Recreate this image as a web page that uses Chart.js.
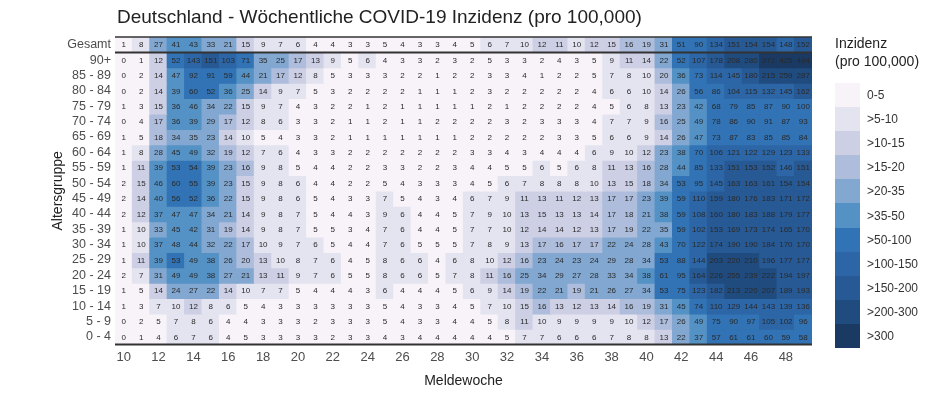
<!DOCTYPE html>
<html>
<head>
<meta charset="utf-8">
<script src="https://cdn.jsdelivr.net/npm/chart.js@4"></script>
<style>
  body { margin: 0; background: #fff; font-family: "Liberation Sans", Arial, sans-serif; }
  #wrap { position: relative; width: 945px; height: 396px; }
  #title { position: absolute; left: 117px; top: 6px; font-size: 19px; color: #222; white-space: nowrap; }
  #legend { position: absolute; left: 835px; top: 34px; color: #222; }
  #legend .lt { font-size: 14px; line-height: 18px; margin-bottom: 13px; white-space: nowrap; }
  #legend .row { display: flex; align-items: center; height: 24.1px; }
  #legend .box { width: 25px; height: 24.1px; }
  #legend .lab { font-size: 12px; color: #333; margin-left: 7px; }
</style>
</head>
<body>
<div id="wrap">
  <div id="title">Deutschland - Wöchentliche COVID-19 Inzidenz (pro 100,000)</div>
  <canvas id="heat" width="945" height="396"></canvas>
  <div id="legend"></div>
</div>
<script>
const weeks = [10, 11, 12, 13, 14, 15, 16, 17, 18, 19, 20, 21, 22, 23, 24, 25, 26, 27, 28, 29,
  30, 31, 32, 33, 34, 35, 36, 37, 38, 39, 40, 41, 42, 43, 44, 45, 46, 47, 48, 49];
const ageGroups = ['Gesamt', '90+', '85 - 89', '80 - 84', '75 - 79', '70 - 74', '65 - 69', '60 - 64',
  '55 - 59', '50 - 54', '45 - 49', '40 - 44', '35 - 39', '30 - 34', '25 - 29', '20 - 24',
  '15 - 19', '10 - 14', '5 - 9', '0 - 4'];

// weekly incidence per row, weeks 10..49
const gesamt = [1, 8, 27, 41, 43, 33, 21, 15, 9, 7, 6, 4, 4, 3, 3, 5, 4, 3, 3, 4, 5, 6, 7, 10, 12, 11, 10, 12, 15, 16, 19, 31, 51, 90, 134, 151, 154, 154, 148, 152];
const age90 = [0, 1, 12, 52, 143, 151, 103, 71, 35, 25, 17, 13, 9, 5, 6, 4, 3, 3, 2, 3, 2, 5, 3, 3, 2, 4, 3, 5, 9, 11, 14, 22, 52, 107, 178, 208, 280, 372, 425, 494];
const age85 = [0, 2, 14, 47, 92, 91, 59, 44, 21, 17, 12, 8, 5, 3, 3, 3, 2, 2, 1, 2, 2, 3, 3, 4, 1, 2, 2, 5, 7, 8, 10, 20, 36, 73, 114, 145, 180, 215, 259, 287];
const age80 = [0, 2, 14, 39, 60, 52, 36, 25, 14, 9, 7, 5, 3, 2, 2, 2, 2, 1, 1, 1, 2, 3, 2, 2, 2, 2, 2, 4, 6, 6, 10, 14, 26, 56, 86, 104, 115, 132, 145, 162];
const age75 = [1, 3, 15, 36, 46, 34, 22, 15, 9, 7, 4, 3, 2, 2, 1, 2, 1, 1, 1, 1, 1, 2, 1, 2, 2, 2, 2, 4, 5, 6, 8, 13, 23, 42, 68, 79, 85, 87, 90, 100];
const age70 = [0, 4, 17, 36, 39, 29, 17, 12, 8, 6, 3, 3, 2, 1, 1, 2, 1, 1, 2, 2, 2, 2, 3, 2, 3, 3, 3, 4, 7, 7, 9, 16, 25, 49, 78, 86, 90, 91, 87, 93];
const age65 = [1, 5, 18, 34, 35, 23, 14, 10, 5, 4, 3, 3, 2, 1, 1, 1, 1, 1, 1, 1, 2, 2, 2, 2, 2, 3, 3, 5, 6, 6, 9, 14, 26, 47, 73, 87, 83, 85, 85, 84];
const age60 = [1, 8, 28, 45, 49, 32, 19, 12, 7, 6, 4, 3, 3, 2, 2, 2, 2, 2, 2, 2, 3, 3, 4, 3, 4, 4, 4, 6, 9, 10, 12, 23, 38, 70, 106, 121, 122, 129, 123, 133];
const age55 = [1, 11, 39, 53, 54, 39, 23, 16, 9, 8, 5, 4, 4, 2, 2, 3, 3, 2, 2, 3, 4, 4, 5, 5, 6, 5, 6, 8, 11, 13, 16, 28, 44, 85, 133, 151, 153, 152, 146, 151];
const age50 = [2, 15, 46, 60, 55, 39, 23, 15, 9, 8, 6, 4, 4, 2, 2, 5, 4, 3, 3, 3, 4, 5, 6, 7, 8, 8, 8, 10, 13, 15, 18, 34, 53, 95, 145, 163, 163, 161, 154, 154];
const age45 = [2, 14, 40, 56, 52, 36, 22, 15, 9, 8, 6, 5, 4, 3, 3, 7, 5, 4, 3, 4, 6, 7, 9, 11, 13, 11, 12, 13, 17, 17, 23, 39, 59, 110, 159, 180, 176, 183, 171, 172];
const age40 = [2, 12, 37, 47, 47, 34, 21, 14, 9, 8, 7, 5, 4, 4, 3, 9, 6, 4, 4, 5, 7, 9, 10, 13, 15, 13, 13, 14, 17, 18, 21, 38, 59, 108, 160, 180, 183, 188, 179, 177];
const age35 = [1, 10, 33, 45, 42, 31, 19, 14, 9, 8, 7, 5, 5, 3, 4, 7, 6, 4, 4, 5, 7, 7, 10, 12, 14, 14, 12, 13, 17, 19, 22, 35, 59, 102, 153, 169, 173, 174, 165, 170];
const age30 = [1, 10, 37, 48, 44, 32, 22, 17, 10, 9, 7, 6, 5, 4, 4, 7, 6, 5, 5, 5, 7, 8, 9, 13, 17, 16, 17, 17, 22, 24, 28, 43, 70, 122, 174, 190, 190, 184, 170, 170];
const age25 = [1, 11, 39, 53, 49, 38, 26, 20, 13, 10, 8, 7, 6, 4, 5, 8, 6, 6, 4, 6, 8, 10, 12, 16, 23, 24, 23, 24, 29, 28, 34, 53, 88, 144, 203, 220, 210, 196, 177, 177];
const age20 = [2, 7, 31, 49, 49, 38, 27, 21, 13, 11, 9, 7, 6, 5, 5, 8, 6, 6, 5, 7, 8, 11, 16, 25, 34, 29, 27, 28, 33, 34, 38, 61, 95, 164, 226, 255, 239, 222, 194, 197];
const age15 = [1, 5, 14, 24, 27, 22, 14, 10, 7, 7, 5, 4, 4, 4, 3, 6, 4, 4, 4, 5, 6, 9, 14, 19, 22, 21, 19, 21, 26, 27, 34, 53, 75, 123, 182, 213, 220, 207, 189, 193];
const age10 = [1, 3, 7, 10, 12, 8, 6, 5, 4, 3, 3, 3, 3, 3, 3, 5, 4, 3, 3, 4, 5, 7, 10, 15, 16, 13, 12, 13, 14, 16, 19, 31, 45, 74, 110, 129, 144, 143, 139, 136];
const age5 = [0, 2, 5, 7, 8, 6, 4, 4, 3, 3, 3, 2, 3, 3, 3, 5, 4, 3, 3, 4, 4, 5, 8, 11, 10, 9, 9, 9, 9, 10, 12, 17, 26, 49, 75, 90, 97, 105, 102, 96];
const age0 = [0, 1, 4, 6, 7, 6, 4, 5, 3, 3, 3, 3, 2, 3, 3, 4, 3, 4, 4, 4, 4, 4, 5, 7, 7, 6, 6, 6, 7, 8, 8, 13, 22, 37, 57, 61, 61, 60, 59, 58];

const binBreaks = [5, 10, 15, 20, 35, 50, 100, 150, 200, 300];
const binLabels = ['0-5', '>5-10', '>10-15', '>15-20', '>20-35', '>35-50', '>50-100', '>100-150', '>150-200', '>200-300', '>300'];
const binColors = ['#f7f3f8', '#e4e3f0', '#cdcfe5', '#adbddb', '#82a8d1', '#5492c6', '#3173b5', '#2c66a6', '#275995', '#204b7f', '#1a3a63'];

const rows = [gesamt, age90, age85, age80, age75, age70, age65, age60, age55, age50,
  age45, age40, age35, age30, age25, age20, age15, age10, age5, age0];

function binIndex(v) {
  let i = 0;
  while (i < binBreaks.length && v > binBreaks[i]) i++;
  return i;
}

// legend (html)
const legend = document.getElementById('legend');
legend.innerHTML = '<div class="lt">Inzidenz<br>(pro 100,000)</div>' +
  binLabels.map((l, i) => `<div class="row"><div class="box" style="background:${binColors[i]}"></div><span class="lab">${l}</span></div>`).join('');

// one floating-bar dataset per age row
const datasets = rows.map((vals, r) => ({
  label: ageGroups[r],
  data: vals.map(() => [r - 0.5, r + 0.5]),
  values: vals,
  backgroundColor: vals.map(v => binColors[binIndex(v)]),
  borderWidth: 0,
  inflateAmount: 0.6,
  barPercentage: 1,
  categoryPercentage: 1,
  grouped: false
}));

const cellText = {
  id: 'cellText',
  afterDatasetsDraw(chart) {
    const ctx = chart.ctx;
    ctx.save();
    ctx.font = '8px "Liberation Sans", Arial, sans-serif';
    ctx.fillStyle = '#2a2a2a';
    ctx.textAlign = 'center';
    ctx.textBaseline = 'middle';
    chart.data.datasets.forEach((ds, r) => {
      chart.getDatasetMeta(r).data.forEach((bar, i) => {
        ctx.fillText(ds.values[i], bar.x, (bar.y + bar.base) / 2 + 0.5);
      });
    });
    // frame lines: top, under Gesamt, bottom axis
    const a = chart.chartArea;
    const ys = chart.scales.y;
    ctx.strokeStyle = '#333';
    [[a.top, 1.5], [ys.getPixelForValue(0.5), 2], [a.bottom, 2]].forEach(([y, w]) => {
      ctx.lineWidth = w;
      ctx.beginPath();
      ctx.moveTo(a.left, y);
      ctx.lineTo(a.right, y);
      ctx.stroke();
    });
    ctx.restore();
  }
};

Chart.defaults.font.family = '"Liberation Sans", Arial, sans-serif';

new Chart(document.getElementById('heat'), {
  type: 'bar',
  data: { labels: weeks, datasets: datasets },
  plugins: [cellText],
  options: {
    responsive: true,
    maintainAspectRatio: false,
    animation: false,
    layout: { padding: { left: 50, right: 133, top: 37, bottom: 6 } },
    plugins: {
      legend: { display: false },
      tooltip: { enabled: false }
    },
    scales: {
      x: {
        grid: { display: false, drawTicks: false },
        border: { display: false },
        ticks: {
          autoSkip: false,
          maxRotation: 0,
          color: '#4d4d4d',
          font: { size: 13 },
          padding: 5,
          callback: (v, i) => (weeks[i] % 2 === 0 ? weeks[i] : '')
        },
        title: { display: true, text: 'Meldewoche', color: '#222', font: { size: 14 }, padding: { top: 3, bottom: 0 } }
      },
      y: {
        type: 'linear',
        reverse: true,
        min: -0.5,
        max: 19.5,
        grid: { display: false, drawTicks: false },
        border: { display: false },
        afterBuildTicks: s => { s.ticks = ageGroups.map((_, i) => ({ value: i })); },
        afterFit: s => { s.width = 65; },
        ticks: {
          autoSkip: false,
          color: '#4d4d4d',
          font: { size: 12.5 },
          padding: 4,
          callback: v => ageGroups[v]
        },
        title: { display: true, text: 'Altersgruppe', color: '#222', font: { size: 14 }, padding: { top: 0, bottom: 4 } }
      }
    }
  }
});
</script>
</body>
</html>
